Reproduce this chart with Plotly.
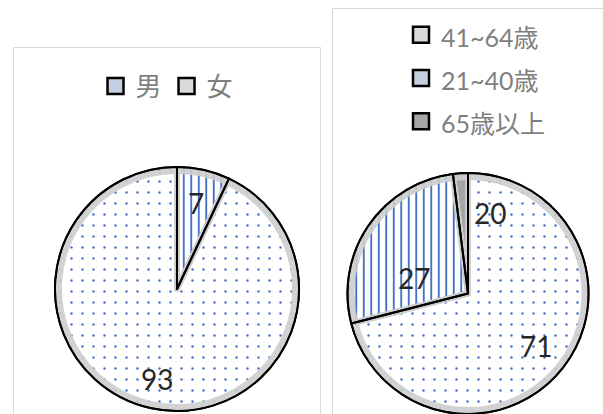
import math
import plotly.graph_objects as go

W, H = 603, 414

# ---- data ----
gender_labels = ["男", "女"]
gender_values = [7, 93]
gender_text = ["7", "93"]

age_labels = ["41~64歳", "21~40歳", "65歳以上"]
age_values = [71, 27, 2]
age_text = ["71", "27", "20"]

# ---- styles ----
BLUE = "#4472c4"
GRAY_SOLID = "#a5a5a5"
BAND = "rgba(205,205,205,0.9)"
FONT = "Lato, 'Noto Sans CJK JP', sans-serif"
LEGEND_GRAY = "#7f7f7f"
LABEL_COLOR = "#262626"
LEGEND_FILL = {"dot": "#dadada", "stripe": "#c6cfe0", "solid": GRAY_SOLID}

def px(x):
    return x / W

def py(y):
    return 1 - y / H

def pattern_for(kinds):
    shapes, fg, sizes, sol, cols = [], [], [], [], []
    for k in kinds:
        if k == "dot":
            shapes.append("."); fg.append(BLUE); sizes.append(11); sol.append(0.04); cols.append("white")
        elif k == "stripe":
            shapes.append("|"); fg.append(BLUE); sizes.append(7.5); sol.append(0.25); cols.append("white")
        else:
            shapes.append(""); fg.append(GRAY_SOLID); sizes.append(8); sol.append(0.3); cols.append(GRAY_SOLID)
    return cols, dict(shape=shapes, fgcolor=fg, size=sizes, solidity=sol,
                      fillmode="overlay", fgopacity=1)

def add_pie(fig, labels, values, kinds, box, shrink=4):
    x0, x1, ytop, ybot = box
    dom = dict(x=[px(x0), px(x1)], y=[max(0, py(ybot)), py(ytop)])
    cols, pat = pattern_for(kinds)
    common = dict(values=values, sort=False, direction="clockwise", rotation=0,
                  textinfo="none", hoverinfo="skip", showlegend=False)
    fig.add_trace(go.Pie(labels=labels, marker=dict(colors=cols, pattern=pat,
                         line=dict(color="black", width=2)),
                         domain=dom, **common))
    dom2 = dict(x=[px(x0 + shrink), px(x1 - shrink)],
                y=[max(0, py(ybot)) + shrink / H, py(ytop + shrink)])
    fig.add_trace(go.Pie(labels=[l + " " for l in labels],
                         marker=dict(colors=["rgba(0,0,0,0)"] * len(values),
                                     line=dict(color=BAND, width=6)),
                         domain=dom2, **common))
    fig.add_trace(go.Pie(labels=[l + "  " for l in labels],
                         marker=dict(colors=["rgba(0,0,0,0)"] * len(values),
                                     line=dict(color="black", width=2)),
                         domain=dom, **common))

def add_legend_entries(fig, labels, kinds, legend_id, wrap=None):
    for l, k in zip(labels, kinds):
        name = l if wrap is None else wrap.format(l)
        fig.add_trace(go.Scatter(x=[None], y=[None], mode="markers", name=name,
                                 legend=legend_id, showlegend=True, hoverinfo="skip",
                                 marker=dict(symbol="square", size=16, color=LEGEND_FILL[k],
                                             line=dict(color="black", width=2.5))))

def label_annotations(values, texts, box, rfrac, dang, size):
    x0, x1, ytop, ybot = box
    ybot = min(ybot, H)
    R = min(x1 - x0, ybot - ytop) / 2
    cx = (x0 + x1) / 2
    cy = (ytop + ybot) / 2
    tot = sum(values)
    cum = 0
    anns = []
    for v, t, f, da in zip(values, texts, rfrac, dang):
        mid = math.radians((cum + v / 2) / tot * 360 + da)
        cum += v
        x = cx + f * R * math.sin(mid)
        y = cy - f * R * math.cos(mid)
        anns.append(dict(x=px(x), y=py(y), xref="paper", yref="paper", text=t,
                         showarrow=False, xanchor="center", yanchor="middle",
                         font=dict(family=FONT, size=size, color=LABEL_COLOR)))
    return anns

fig = go.Figure()

left_box = (55, 299, 167, 411)
right_box = (346, 590, 173, 417)
gender_kinds = ["stripe", "dot"]
age_kinds = ["dot", "stripe", "solid"]

add_pie(fig, gender_labels, gender_values, gender_kinds, left_box)
add_pie(fig, age_labels, age_values, age_kinds, right_box)
add_legend_entries(fig, gender_labels, gender_kinds, "legend")
add_legend_entries(fig, age_labels, age_kinds, "legend2",
                   wrap="<span style='font-size:25px'>{}</span>")

anns = []
anns += label_annotations(gender_values, gender_text, left_box, [0.72, 0.76], [0, 0], 28)
anns += label_annotations(age_values, age_text, right_box, [0.71, 0.47, 0.69], [0, -18, 19], 28)

shapes = [
    dict(type="rect", xref="paper", yref="paper", x0=px(13.5), x1=px(320.5),
         y0=-0.1, y1=py(47.5), line=dict(color="#d9d9d9", width=1)),
    dict(type="rect", xref="paper", yref="paper", x0=px(332.5), x1=1.1,
         y0=-0.1, y1=py(8.5), line=dict(color="#d9d9d9", width=1)),
]

fig.update_layout(
    width=W, height=H,
    margin=dict(l=0, r=0, t=0, b=0),
    paper_bgcolor="white", plot_bgcolor="white",
    xaxis=dict(visible=False), yaxis=dict(visible=False),
    shapes=shapes, annotations=anns,
    legend=dict(orientation="h", x=px(167), xanchor="center", y=py(86), yanchor="middle",
                font=dict(family=FONT, size=26, color=LEGEND_GRAY),
                bgcolor="rgba(0,0,0,0)"),
    legend2=dict(orientation="v", x=px(401), xanchor="left", y=py(8), yanchor="top",
                 font=dict(family=FONT, size=31, color=LEGEND_GRAY),
                 bgcolor="rgba(0,0,0,0)"),
)

fig.write_html("out.html")
